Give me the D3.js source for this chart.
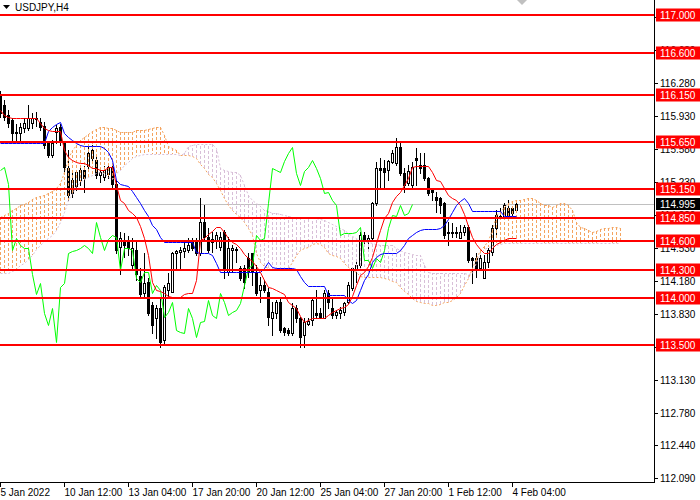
<!DOCTYPE html>
<html><head><meta charset="utf-8">
<script src="https://cdn.jsdelivr.net/npm/d3@7"></script>
<style>body{margin:0;background:#fff}svg{display:block}text{font-family:"Liberation Sans",Arial,sans-serif}</style>
</head><body><svg id="c" width="700" height="500"></svg>
<script>
const symbol = "USDJPY,H4";
const opens = [116.15,116.05,115.94,115.89,115.75,115.75,115.80,115.80,115.85,115.90,
115.87,115.82,115.64,115.52,115.76,115.81,115.64,115.38,115.11,115.19,
115.25,115.36,115.40,115.48,115.46,115.30,115.28,115.31,115.39,115.21,
114.54,114.61,114.59,114.35,114.51,114.23,114.05,114.17,113.92,113.79,
113.89,113.55,114.08,114.06,114.48,114.49,114.50,114.51,114.59,114.59,
114.48,114.80,114.65,114.59,114.61,114.54,114.70,114.27,114.51,114.52,
114.32,114.32,114.42,114.48,114.27,114.08,114.14,114.06,113.79,113.84,
113.96,113.68,113.66,113.63,113.89,113.79,113.61,113.72,113.77,113.84,
113.84,113.79,114.05,113.89,113.82,113.84,113.85,113.96,114.11,114.30,
114.35,114.67,114.61,114.64,115.01,115.38,115.38,115.36,115.44,115.43,
115.60,115.32,115.22,115.20,115.48,115.41,115.41,115.27,115.14,115.07,
115.06,115.01,114.70,114.70,114.70,114.64,114.70,114.75,114.42,114.42,
114.32,114.21,114.38,114.49,114.74,114.86,114.86,114.95,114.95,114.93];
const highs = [116.19,116.10,115.99,115.91,115.84,115.85,115.91,116.05,115.96,115.97,
115.91,115.87,115.66,115.67,115.83,115.84,115.66,115.57,115.34,115.36,
115.38,115.40,115.61,115.62,115.52,115.38,115.40,115.43,115.43,115.25,
114.70,114.69,114.66,114.64,114.61,114.32,114.48,114.21,113.96,113.92,
113.99,114.14,114.26,114.49,114.51,114.54,114.59,114.64,114.64,114.64,
115.06,114.98,114.74,114.70,114.70,114.70,114.72,114.65,114.56,114.54,
114.34,114.35,114.48,114.48,114.35,114.22,114.19,114.11,113.96,113.98,
113.99,113.69,113.68,113.95,113.92,113.80,113.79,113.79,114.00,114.08,
113.89,114.08,114.08,113.99,113.87,113.90,113.96,114.17,114.33,114.38,
114.70,114.70,114.67,115.02,115.44,115.48,115.46,115.46,115.57,115.70,
115.64,115.38,115.41,115.44,115.59,115.54,115.54,115.28,115.17,115.12,
115.07,115.02,114.80,114.79,114.75,114.77,114.77,114.77,114.43,114.48,
114.45,114.45,114.53,114.77,114.93,114.95,115.01,115.04,114.96,115.02];
const lows = [115.92,115.89,115.81,115.67,115.67,115.65,115.76,115.78,115.80,115.82,
115.78,115.59,115.49,115.49,115.64,115.62,115.34,115.04,115.07,115.14,
115.20,115.12,115.36,115.44,115.27,115.23,115.25,115.27,115.17,114.48,
114.25,114.43,114.45,114.32,114.19,114.02,114.02,113.82,113.63,113.58,
113.48,113.50,114.00,114.06,114.32,114.32,114.43,114.49,114.51,114.45,
114.45,114.61,114.49,114.49,114.53,114.51,114.21,114.24,114.27,114.38,
114.19,114.10,114.22,114.14,114.03,113.96,114.06,113.71,113.61,113.79,
113.64,113.61,113.61,113.61,113.74,113.48,113.48,113.71,113.71,113.79,
113.79,113.79,113.89,113.79,113.79,113.79,113.82,113.95,114.08,114.17,
114.33,114.56,114.51,114.61,114.99,115.17,115.17,115.25,115.43,115.41,
115.30,115.12,115.20,115.18,115.20,115.32,115.25,115.09,115.04,114.91,
114.90,114.64,114.56,114.65,114.65,114.64,114.67,114.38,114.16,114.22,
114.30,114.21,114.33,114.45,114.65,114.85,114.85,114.86,114.86,114.91];
const closes = [115.96,115.92,115.85,115.75,115.76,115.81,115.85,115.91,115.91,115.91,
115.81,115.62,115.52,115.64,115.80,115.65,115.39,115.09,115.25,115.34,
115.36,115.27,115.54,115.57,115.30,115.34,115.36,115.39,115.21,114.51,
114.64,114.56,114.53,114.53,114.25,114.04,114.16,113.84,113.71,113.89,
113.53,114.12,114.16,114.48,114.50,114.51,114.53,114.56,114.53,114.48,
114.80,114.65,114.51,114.62,114.67,114.65,114.30,114.53,114.53,114.51,
114.21,114.17,114.27,114.27,114.05,114.14,114.08,113.80,113.85,113.96,
113.66,113.64,113.63,113.89,113.79,113.59,113.74,113.75,113.98,113.82,
113.79,114.05,113.96,113.82,113.85,113.87,113.95,114.14,114.32,114.35,
114.67,114.61,114.64,115.01,115.38,115.36,115.34,115.45,115.54,115.60,
115.32,115.20,115.35,115.39,115.46,115.38,115.27,115.11,115.12,115.04,
114.99,114.67,114.69,114.69,114.69,114.70,114.75,114.40,114.40,114.32,
114.42,114.38,114.51,114.74,114.88,114.87,114.99,114.88,114.90,114.995];
const tenkan = [115.99,115.94,115.92,115.91,115.91,115.91,115.91,115.91,115.91,115.91,
115.86,115.80,115.78,115.77,115.77,115.77,115.57,115.49,115.46,115.44,
115.43,115.43,115.41,115.38,115.38,115.36,115.36,115.39,115.39,115.20,
115.04,115.01,114.93,114.90,114.86,114.76,114.64,114.46,114.17,114.08,
114.07,114.05,114.02,114.01,114.01,114.01,114.04,114.05,114.05,114.19,
114.61,114.64,114.68,114.71,114.75,114.75,114.70,114.64,114.59,114.57,
114.53,114.47,114.42,114.39,114.34,114.27,114.19,114.12,114.10,114.08,
114.06,114.04,113.96,113.92,113.89,113.81,113.74,113.77,113.79,113.79,
113.79,113.79,113.82,113.85,113.87,113.89,113.90,113.94,114.02,114.14,
114.24,114.27,114.34,114.43,114.58,114.72,114.85,114.90,115.02,115.08,
115.12,115.20,115.27,115.39,115.40,115.40,115.40,115.40,115.33,115.25,
115.24,115.17,115.09,115.06,115.04,114.99,114.89,114.76,114.65,114.57,
114.52,114.48,114.48,114.53,114.57,114.59,114.61,114.64,114.64,114.64];
const kijun = [115.64,115.64,115.64,115.64,115.64,115.64,115.64,115.64,115.64,115.64,
115.64,115.64,115.77,115.81,115.84,115.87,115.75,115.71,115.67,115.64,
115.62,115.61,115.61,115.61,115.61,115.61,115.59,115.55,115.46,115.25,
115.21,115.20,115.19,115.13,115.07,115.01,114.93,114.87,114.77,114.73,
114.65,114.59,114.59,114.59,114.59,114.59,114.59,114.59,114.59,114.49,
114.48,114.48,114.48,114.45,114.37,114.28,114.27,114.27,114.27,114.27,
114.27,114.27,114.27,114.27,114.27,114.27,114.32,114.38,114.33,114.32,
114.32,114.32,114.32,114.32,114.31,114.23,114.17,114.13,114.13,114.13,
114.13,114.13,114.03,114.03,114.03,114.03,114.03,113.98,113.95,113.98,
114.08,114.19,114.25,114.38,114.43,114.47,114.48,114.48,114.48,114.48,
114.51,114.56,114.64,114.67,114.70,114.72,114.73,114.73,114.73,114.73,
114.74,114.77,114.84,114.91,114.98,115.03,115.06,115.01,114.92,114.92,
114.92,114.92,114.92,114.92,114.92,114.92,114.87,114.87,114.87,114.87];
const spanA = [114.86,114.88,114.90,114.93,114.95,114.98,115.00,115.02,115.05,115.07,
115.08,115.09,115.11,115.13,115.17,115.22,115.34,115.48,115.57,115.62,
115.67,115.71,115.74,115.77,115.79,115.81,115.81,115.80,115.80,115.78,
115.76,115.76,115.76,115.76,115.78,115.78,115.78,115.79,115.80,115.81,
115.81,115.73,115.61,115.59,115.57,115.52,115.52,115.52,115.51,115.48,
115.42,115.38,115.31,115.28,115.22,115.14,115.06,114.99,114.93,114.89,
114.86,114.81,114.74,114.67,114.48,114.38,114.34,114.32,114.30,114.30,
114.30,114.30,114.32,114.38,114.46,114.51,114.53,114.54,114.57,114.58,
114.57,114.54,114.48,114.46,114.44,114.42,114.37,114.33,114.30,114.27,
114.23,114.22,114.22,114.22,114.22,114.22,114.21,114.20,114.18,114.17,
114.12,114.07,114.04,114.00,113.97,113.96,113.95,113.95,113.93,113.92,
113.94,113.96,113.96,113.98,114.01,114.05,114.14,114.21,114.32,114.42,
114.51,114.55,114.61,114.72,114.88,114.91,114.96,115.01,115.03,115.04,
115.04,115.05,115.06,115.06,115.04,115.01,114.99,114.98,114.96,114.99,
115.01,115.01,114.98,114.93,114.81,114.75,114.74,114.72,114.70,114.71,
114.73,114.74,114.74,114.75,114.75,114.74];
const spanB = [114.26,114.26,114.26,114.29,114.31,114.35,114.37,114.41,114.46,114.52,
114.56,114.60,114.64,114.67,114.72,114.81,114.91,115.04,115.11,115.19,
115.23,115.26,115.28,115.30,115.32,115.33,115.32,115.28,115.26,115.32,
115.36,115.41,115.44,115.48,115.51,115.52,115.53,115.53,115.53,115.53,
115.53,115.53,115.53,115.53,115.53,115.52,115.54,115.61,115.62,115.63,
115.63,115.63,115.63,115.63,115.59,115.38,115.36,115.35,115.34,115.34,
115.30,115.20,115.09,115.04,115.01,114.97,114.93,114.92,114.90,114.90,
114.89,114.88,114.87,114.86,114.85,114.85,114.85,114.85,114.85,114.85,
114.84,114.83,114.81,114.78,114.76,114.74,114.72,114.69,114.66,114.64,
114.60,114.59,114.59,114.58,114.57,114.56,114.56,114.56,114.56,114.53,
114.51,114.49,114.48,114.47,114.46,114.45,114.35,114.27,114.26,114.26,
114.26,114.26,114.26,114.26,114.26,114.26,114.26,114.25,114.26,114.38,
114.48,114.52,114.54,114.55,114.56,114.57,114.58,114.58,114.58,114.58,
114.58,114.58,114.58,114.58,114.58,114.58,114.58,114.58,114.58,114.58,
114.58,114.58,114.58,114.58,114.58,114.58,114.58,114.58,114.58,114.58,
114.58,114.58,114.58,114.58,114.58,114.58];
const levels = [117.000,116.600,116.150,115.650,115.150,114.850,114.600,114.300,114.000,113.500];
const priceTicks = ["116.980","116.630","116.280","115.930","115.580","115.230","114.880","114.530","114.180","113.830","113.480","113.130","112.780","112.440","112.090"];
const timeLabels = ["5 Jan 2022","10 Jan 12:00","13 Jan 04:00","17 Jan 20:00","20 Jan 12:00","25 Jan 04:00","27 Jan 20:00","1 Feb 12:00","4 Feb 04:00"];
const timeBars = [0,16,32,48,64,80,96,112,128];
const chikouShift = 26;
const lastPrice = 114.995;

const W = 700, H = 500, PR = 654, PB = 482;
const svg = d3.select("#c");
svg.append("rect").attr("width", W).attr("height", H).attr("fill", "#fff");
const x = d3.scaleLinear().domain([0, 129]).range([0.5, 516.5]);
const y = d3.scaleLinear().domain([112.048, 117.159]).range([PB, 0]);
const cy = v => Math.round(y(v)) + 0.5;

const plot = svg.append("g");
svg.append("defs").append("clipPath").attr("id", "clip").append("rect").attr("x", 0).attr("y", 0).attr("width", PR).attr("height", PB);
plot.attr("clip-path", "url(#clip)");

// current price line
plot.append("line").attr("x1", 0).attr("x2", PR).attr("y1", cy(lastPrice)).attr("y2", cy(lastPrice))
  .attr("stroke", "#c0c0c0").attr("shape-rendering", "crispEdges");

// candles
const cg = plot.append("g").attr("shape-rendering", "crispEdges");
opens.forEach((o, i) => {
  const c = closes[i], xi = x(i);
  cg.append("line").attr("x1", xi).attr("x2", xi).attr("y1", Math.round(y(highs[i]))).attr("y2", Math.round(y(lows[i])) + 1).attr("stroke", "#000");
  const t = Math.round(y(Math.max(o, c))), b = Math.round(y(Math.min(o, c)));
  if (b - t < 1) {
    cg.append("line").attr("x1", xi - 1.5).attr("x2", xi + 1.5).attr("y1", t + 0.5).attr("y2", t + 0.5).attr("stroke", "#000");
  } else {
    cg.append("rect").attr("x", xi - 1).attr("y", t + 0.5).attr("width", 2).attr("height", b - t)
      .attr("fill", c < o ? "#000" : "#fff").attr("stroke", "#000");
  }
});

// cloud hatching
const kg = plot.append("g").attr("shape-rendering", "crispEdges");
spanA.forEach((a, i) => {
  const b = spanB[i];
  kg.append("line").attr("x1", x(i)).attr("x2", x(i)).attr("y1", Math.round(y(a))).attr("y2", Math.round(y(b)))
    .attr("stroke", a >= b ? "#f4a460" : "#d8bfd8").attr("stroke-dasharray", "3,2");
});
const line = d3.line().x((d, i) => x(i)).y(d => cy(d));
plot.append("path").attr("d", line(spanA)).attr("fill", "none").attr("stroke", "#f4a460").attr("stroke-dasharray", "2,2");
plot.append("path").attr("d", line(spanB)).attr("fill", "none").attr("stroke", "#d8bfd8").attr("stroke-dasharray", "2,2");
plot.append("path").attr("d", line(closes.slice(chikouShift))).attr("fill", "none").attr("stroke", "#00ff00");
plot.append("path").attr("d", line(kijun)).attr("fill", "none").attr("stroke", "#0000ff");
plot.append("path").attr("d", line(tenkan)).attr("fill", "none").attr("stroke", "#ff0000");

// level lines
levels.forEach(l => {
  plot.append("line").attr("x1", 0).attr("x2", PR).attr("y1", Math.round(y(l))).attr("y2", Math.round(y(l)))
    .attr("stroke", "#ff0000").attr("stroke-width", 2).attr("shape-rendering", "crispEdges");
});

// axes frame
svg.append("line").attr("x1", PR + 0.5).attr("x2", PR + 0.5).attr("y1", 0).attr("y2", PB + 1).attr("stroke", "#000").attr("shape-rendering", "crispEdges");
svg.append("line").attr("x1", 0).attr("x2", PR + 1).attr("y1", PB + 0.5).attr("y2", PB + 0.5).attr("stroke", "#000").attr("shape-rendering", "crispEdges");

// price ticks
priceTicks.forEach(t => {
  const yy = cy(+t);
  svg.append("line").attr("x1", PR).attr("x2", PR + 4).attr("y1", yy).attr("y2", yy).attr("stroke", "#000").attr("shape-rendering", "crispEdges");
  svg.append("text").attr("x", 660).attr("y", yy + 3.5).attr("font-size", "10px").attr("fill", "#000").text(t);
});
// time ticks
timeLabels.forEach((t, k) => {
  const xx = x(timeBars[k]);
  svg.append("line").attr("x1", xx).attr("x2", xx).attr("y1", PB).attr("y2", PB + 5).attr("stroke", "#000").attr("shape-rendering", "crispEdges");
  svg.append("text").attr("x", xx).attr("y", 496).attr("font-size", "10px").attr("fill", "#000").text(t);
});

// level labels
levels.forEach(l => {
  const yy = Math.round(y(l));
  svg.append("rect").attr("x", 656).attr("y", yy - 6.5).attr("width", 44).attr("height", 13).attr("fill", "#ff0000");
  svg.append("text").attr("x", 660).attr("y", yy + 3.5).attr("font-size", "10px").attr("fill", "#fff").text(l.toFixed(3));
});
{
  const yy = Math.round(y(lastPrice));
  svg.append("rect").attr("x", 656).attr("y", yy - 6).attr("width", 44).attr("height", 12).attr("fill", "#000");
  svg.append("text").attr("x", 660).attr("y", yy + 3.5).attr("font-size", "10px").attr("fill", "#fff").text(lastPrice.toFixed(3));
}

// title
svg.append("path").attr("d", "M3,5 L10,5 L6.5,9 Z").attr("fill", "#000");
svg.append("text").attr("x", 15).attr("y", 11).attr("font-size", "10px").attr("fill", "#000").text(symbol);
// shift marker
svg.append("path").attr("d", "M517,0 L527,0 L522,5 Z").attr("fill", "#c0c0c0");
</script></body></html>
